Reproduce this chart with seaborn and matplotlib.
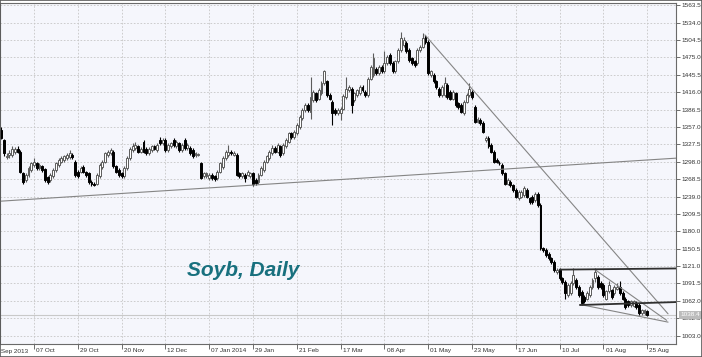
import numpy as np
import pandas as pd
import matplotlib
matplotlib.use("Agg")
import matplotlib.pyplot as plt
import seaborn as sns
from matplotlib.transforms import ScaledTranslation, blended_transform_factory

# daily bars, bar index 4 .. 240 (bar 0 = 13 Sep 2013)
FIRST_BAR = 4

opens = [
    1352, 1335, 1306, 1309, 1309, 1315, 1320, 1315, 1278, 1267,
    1275, 1284, 1292, 1295, 1287, 1290, 1286, 1272, 1267, 1273,
    1284, 1292, 1298, 1301, 1304, 1306, 1309, 1298, 1281, 1281,
    1289, 1281, 1278, 1264, 1261, 1261, 1273, 1289, 1298, 1309,
    1312, 1315, 1290, 1284, 1278, 1273, 1287, 1304, 1318, 1321,
    1324, 1315, 1332, 1320, 1312, 1318, 1324, 1318, 1335, 1329,
    1335, 1318, 1324, 1335, 1324, 1329, 1318, 1335, 1321, 1321,
    1318, 1309, 1310, 1295, 1273, 1273, 1270, 1276, 1273, 1270,
    1281, 1289, 1304, 1309, 1315, 1310, 1309, 1278, 1273, 1276,
    1276, 1273, 1278, 1267, 1264, 1276, 1284, 1298, 1304, 1312,
    1321, 1315, 1324, 1312, 1324, 1332, 1346, 1340, 1346, 1357,
    1372, 1386, 1394, 1383, 1402, 1414, 1405, 1414, 1431, 1434,
    1411, 1400, 1386, 1380, 1380, 1388, 1408, 1419, 1422, 1403,
    1411, 1414, 1425, 1417, 1411, 1439, 1445, 1456, 1448, 1459,
    1451, 1465, 1479, 1465, 1451, 1468, 1487, 1496, 1499, 1487,
    1473, 1468, 1465, 1487, 1493, 1510, 1501, 1445, 1445, 1434,
    1422, 1411, 1411, 1428, 1417, 1405, 1414, 1397, 1394, 1380,
    1400, 1411, 1417, 1391, 1366, 1369, 1364, 1335, 1338, 1326,
    1315, 1301, 1296, 1292, 1278, 1261, 1264, 1258, 1250, 1236,
    1239, 1242, 1250, 1236, 1239, 1233, 1244, 1225, 1151, 1148,
    1142, 1134, 1128, 1111, 1114, 1100, 1094, 1072, 1075, 1092,
    1097, 1086, 1077, 1069, 1066, 1072, 1086, 1100, 1103, 1092,
    1089, 1066, 1078, 1080, 1075, 1083, 1086, 1075, 1066, 1061,
    1055, 1054, 1058, 1055, 1041, 1041, 1045,
]
highs = [
    1356, 1337, 1312, 1318, 1325, 1323, 1324, 1318, 1281, 1278,
    1290, 1298, 1305, 1298, 1295, 1293, 1288, 1274, 1278, 1287,
    1298, 1304, 1307, 1310, 1313, 1318, 1313, 1301, 1284, 1290,
    1292, 1283, 1281, 1267, 1264, 1278, 1295, 1301, 1315, 1318,
    1321, 1318, 1292, 1287, 1281, 1290, 1307, 1323, 1329, 1332,
    1327, 1323, 1335, 1323, 1323, 1327, 1327, 1329, 1340, 1338,
    1338, 1329, 1332, 1338, 1335, 1332, 1329, 1338, 1329, 1324,
    1321, 1315, 1313, 1298, 1281, 1281, 1279, 1279, 1276, 1284,
    1298, 1307, 1318, 1326, 1318, 1316, 1312, 1281, 1281, 1279,
    1284, 1281, 1281, 1270, 1279, 1290, 1301, 1310, 1318, 1326,
    1324, 1329, 1327, 1329, 1338, 1349, 1349, 1352, 1363, 1377,
    1389, 1397, 1397, 1442, 1420, 1417, 1423, 1434, 1454, 1437,
    1414, 1403, 1389, 1389, 1391, 1412, 1442, 1428, 1425, 1417,
    1422, 1428, 1428, 1420, 1442, 1462, 1482, 1459, 1462, 1462,
    1485, 1479, 1482, 1468, 1471, 1490, 1518, 1510, 1502, 1490,
    1476, 1471, 1490, 1496, 1516, 1513, 1504, 1454, 1448, 1437,
    1425, 1428, 1442, 1431, 1420, 1420, 1417, 1400, 1397, 1403,
    1414, 1431, 1420, 1394, 1374, 1372, 1367, 1341, 1341, 1329,
    1318, 1304, 1299, 1295, 1281, 1270, 1267, 1261, 1253, 1250,
    1250, 1256, 1253, 1239, 1242, 1247, 1247, 1228, 1154, 1151,
    1145, 1137, 1131, 1118, 1117, 1103, 1097, 1092, 1095, 1117,
    1100, 1089, 1080, 1072, 1078, 1089, 1100, 1117, 1106, 1095,
    1092, 1081, 1095, 1083, 1089, 1092, 1095, 1078, 1069, 1064,
    1064, 1064, 1061, 1058, 1049, 1049, 1047,
]
lows = [
    1336, 1308, 1302, 1305, 1306, 1311, 1312, 1278, 1260, 1263,
    1272, 1281, 1289, 1284, 1284, 1281, 1264, 1261, 1264, 1270,
    1281, 1289, 1295, 1298, 1301, 1303, 1303, 1272, 1270, 1278,
    1278, 1272, 1261, 1257, 1256, 1258, 1270, 1286, 1295, 1306,
    1309, 1287, 1278, 1272, 1270, 1270, 1284, 1301, 1315, 1318,
    1312, 1312, 1312, 1309, 1309, 1315, 1317, 1315, 1326, 1326,
    1315, 1315, 1321, 1323, 1321, 1315, 1315, 1318, 1318, 1309,
    1304, 1306, 1308, 1268, 1270, 1270, 1267, 1267, 1266, 1267,
    1278, 1286, 1301, 1306, 1309, 1307, 1273, 1270, 1270, 1264,
    1273, 1270, 1256, 1259, 1261, 1273, 1281, 1295, 1301, 1309,
    1312, 1312, 1306, 1309, 1321, 1329, 1337, 1337, 1343, 1354,
    1369, 1383, 1383, 1371, 1399, 1399, 1402, 1411, 1428, 1408,
    1402, 1360, 1377, 1377, 1369, 1385, 1405, 1416, 1380, 1400,
    1408, 1411, 1417, 1408, 1408, 1436, 1442, 1445, 1445, 1448,
    1448, 1462, 1462, 1448, 1448, 1465, 1484, 1493, 1482, 1467,
    1462, 1459, 1462, 1484, 1490, 1498, 1445, 1442, 1431, 1422,
    1408, 1408, 1408, 1405, 1402, 1402, 1391, 1388, 1380, 1377,
    1397, 1408, 1405, 1363, 1363, 1360, 1346, 1332, 1321, 1312,
    1295, 1295, 1292, 1275, 1258, 1258, 1255, 1247, 1236, 1233,
    1236, 1239, 1236, 1227, 1227, 1230, 1222, 1148, 1145, 1137,
    1131, 1125, 1111, 1108, 1097, 1091, 1066, 1069, 1072, 1089,
    1083, 1069, 1055, 1058, 1063, 1069, 1083, 1094, 1083, 1083,
    1069, 1063, 1075, 1066, 1072, 1080, 1072, 1063, 1049, 1052,
    1052, 1051, 1049, 1038, 1038, 1038, 1036,
]
closes = [
    1338, 1312, 1308, 1313, 1320, 1320, 1315, 1281, 1264, 1275,
    1287, 1295, 1298, 1287, 1292, 1284, 1267, 1264, 1275, 1284,
    1295, 1301, 1304, 1307, 1309, 1312, 1306, 1275, 1273, 1287,
    1281, 1275, 1264, 1260, 1259, 1275, 1292, 1298, 1312, 1315,
    1318, 1290, 1281, 1275, 1273, 1287, 1304, 1320, 1324, 1326,
    1315, 1320, 1315, 1312, 1320, 1324, 1320, 1326, 1329, 1335,
    1318, 1326, 1329, 1326, 1332, 1318, 1326, 1321, 1326, 1312,
    1307, 1312, 1311, 1271, 1278, 1278, 1276, 1270, 1269, 1281,
    1295, 1304, 1315, 1315, 1312, 1313, 1276, 1273, 1278, 1270,
    1281, 1278, 1261, 1262, 1276, 1287, 1298, 1307, 1315, 1321,
    1315, 1326, 1309, 1326, 1335, 1346, 1340, 1349, 1360, 1374,
    1386, 1394, 1386, 1408, 1417, 1402, 1420, 1431, 1451, 1411,
    1405, 1380, 1380, 1386, 1388, 1409, 1422, 1425, 1394, 1414,
    1419, 1425, 1420, 1411, 1439, 1459, 1473, 1448, 1459, 1451,
    1465, 1476, 1465, 1451, 1468, 1487, 1507, 1504, 1485, 1470,
    1465, 1462, 1487, 1493, 1507, 1501, 1448, 1451, 1434, 1425,
    1411, 1425, 1431, 1408, 1405, 1417, 1394, 1391, 1383, 1400,
    1411, 1422, 1408, 1366, 1371, 1363, 1349, 1338, 1324, 1315,
    1298, 1298, 1295, 1278, 1261, 1267, 1258, 1250, 1239, 1247,
    1247, 1253, 1239, 1230, 1230, 1244, 1225, 1151, 1148, 1140,
    1134, 1128, 1114, 1115, 1100, 1094, 1075, 1089, 1092, 1106,
    1086, 1072, 1058, 1061, 1075, 1086, 1097, 1111, 1086, 1086,
    1072, 1078, 1089, 1069, 1086, 1086, 1075, 1066, 1052, 1055,
    1061, 1061, 1052, 1041, 1046, 1046, 1038.4,
]

x_tick_bars = [0, 16, 32, 48, 64, 80, 96, 112, 128, 144, 160, 176, 192, 208, 224, 240]
x_tick_labels = ["13 Sep 2013", "07 Oct", "29 Oct", "20 Nov", "12 Dec", "07 Jan 2014",
                 "29 Jan", "21 Feb", "17 Mar", "08 Apr", "01 May", "23 May", "17 Jun",
                 "10 Jul", "01 Aug", "25 Aug"]
y_ticks = [1003.0, 1032.5, 1062.0, 1091.5, 1121.0, 1150.5, 1180.0, 1209.5, 1239.0, 1268.5,
           1298.0, 1327.5, 1357.0, 1386.5, 1416.0, 1445.5, 1475.0, 1504.5, 1534.0, 1563.5]
last_price = 1038.4

# drawn trend lines: (bar, price) end points
thin_lines = {
    "support": [(3.6, 1231), (250.5, 1304)],
    "down": [(158.8, 1513), (247.6, 1040)],
    "wedge_top": [(220.9, 1115), (247.1, 1029)],
    "wedge_bottom": [(215.4, 1056), (247.6, 1026)],
}
bold_lines = {
    "range_top": [(208.0, 1115), (250.5, 1117)],
    "range_bottom": [(215.4, 1055), (250.5, 1060)],
}


def lines_frame(lines):
    rows = []
    for name, pts in lines.items():
        for bar, price in pts:
            rows.append({"line": name, "bar": bar, "price": price})
    return pd.DataFrame(rows)


def main():
    sns.set_style("white")
    plt.rcParams["font.family"] = ["Liberation Sans", "DejaVu Sans"]

    o = np.array(opens, float)
    h = np.array(highs, float)
    l = np.array(lows, float)
    c = np.array(closes, float)
    assert len(o) == len(h) == len(l) == len(c)
    x = np.arange(FIRST_BAR, FIRST_BAR + len(c))
    up = c >= o

    fig = plt.figure(figsize=(7.02, 3.57), dpi=100)
    ax = fig.add_axes([0, 1 - 344 / 357, 676 / 702, 341 / 357])
    ax.set_facecolor("#f5f6fc")

    # candles
    ax.vlines(x[up], l[up], h[up], color="#5c5c5c", lw=0.8, zorder=3)
    ax.vlines(x[~up], l[~up], h[~up], color="black", lw=0.8, zorder=3)
    ax.bar(x[up], (c - o)[up], bottom=o[up], width=0.7, color="white",
           edgecolor="#5c5c5c", linewidth=0.7, zorder=4)
    ax.bar(x[~up], (o - c)[~up], bottom=c[~up], width=0.7, color="black",
           edgecolor="black", linewidth=0.7, zorder=4)

    # trend lines
    sns.lineplot(data=lines_frame(thin_lines), x="bar", y="price", units="line",
                 estimator=None, color="#858585", lw=0.8, ax=ax, zorder=5)
    sns.lineplot(data=lines_frame(bold_lines), x="bar", y="price", units="line",
                 estimator=None, color="#303030", lw=1.3, ax=ax, zorder=5)
    ax.axhline(last_price, color="#c9c9c9", lw=0.8, zorder=2)

    ax.set_xlim(3.58, 250.5)
    ax.set_ylim(988.9, 1567.1)
    ax.set_xlabel("")
    ax.set_ylabel("")

    ax.set_xticks(x_tick_bars[1:])
    ax.set_xticklabels(x_tick_labels[1:])
    ax.set_yticks(y_ticks)
    ax.set_yticklabels([f"{v:.1f}" for v in y_ticks])
    ax.yaxis.tick_right()
    ax.tick_params(axis="both", labelsize=4.6, labelcolor="#333333", color="#555555",
                   width=0.6, direction="out")
    ax.tick_params(axis="x", length=3.6, pad=-0.8, bottom=True)
    ax.tick_params(axis="y", length=3, pad=1, right=True)
    off = ScaledTranslation(1.5 / 72, 0, fig.dpi_scale_trans)
    for lbl in ax.get_xticklabels():
        lbl.set_horizontalalignment("left")
        lbl.set_transform(lbl.get_transform() + off)
    # first date label sits left of the visible range (cut by the edge, as in the source)
    trans = blended_transform_factory(ax.transData, ax.transAxes)
    ax.text(x_tick_bars[0], -0.014, x_tick_labels[0], transform=trans + off,
            fontsize=4.6, color="#333333", ha="left", va="top", clip_on=False)

    ax.grid(True, ls=(0, (2, 2)), color="#c6c6c6", lw=0.6)
    ax.set_axisbelow(True)
    for s in ax.spines.values():
        s.set_color("#6a6a6a")
        s.set_linewidth(0.8)

    # price label
    ax.text(1.007, last_price, f"{last_price:.1f}",
            transform=blended_transform_factory(ax.transAxes, ax.transData),
            fontsize=4.6, color="white", ha="left", va="center", zorder=10, clip_on=False,
            bbox=dict(boxstyle="square,pad=0.25", fc="#bcbcbc", ec="none"))

    ax.text(0.2766, 0.217, "Soyb, Daily", transform=ax.transAxes, fontsize=15,
            fontweight="bold", fontstyle="italic", color="#18707e",
            ha="left", va="center")

    fig.patches.append(plt.Rectangle((0, 0), 1, 1, transform=fig.transFigure, fill=False,
                                     ec="#5a5a5a", lw=1.2))
    legend = ax.get_legend()
    if legend is not None:
        legend.remove()
    fig.savefig("out.png", dpi=100)


if __name__ == "__main__":
    main()
